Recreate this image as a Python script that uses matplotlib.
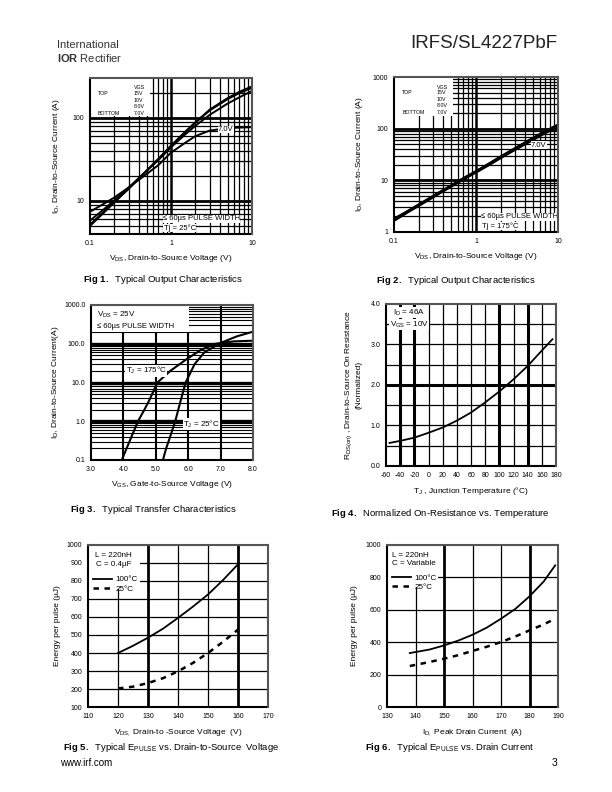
"""
Datasheet page 3 of IRFS/SL4227PbF: six typical characteristic charts.
"""
import matplotlib
matplotlib.use("Agg")
import matplotlib.pyplot as plt
from matplotlib.patches import Rectangle

plt.rcParams["font.family"] = ["Liberation Sans", "DejaVu Sans"]
plt.rcParams["mathtext.fontset"] = "custom"
plt.rcParams["mathtext.rm"] = "Liberation Sans"
plt.rcParams["mathtext.it"] = "Liberation Sans"
plt.rcParams["mathtext.bf"] = "Liberation Sans:bold"
plt.rcParams["mathtext.default"] = "regular"
plt.rcParams["axes.unicode_minus"] = False

W, H = 612, 792

# Fig 1: output characteristics, Tj = 25C
fig1_vds = [0.1, 0.15, 0.2, 0.3, 0.5, 0.7, 1, 1.5, 2, 3, 5, 7, 10]
fig1_15v = [5.0, 7.3, 9.6, 14, 23, 32, 46, 68, 88, 125, 172, 205, 238]
fig1_10v = [5.2, 7.5, 9.8, 14, 23, 32, 46, 67, 87, 122, 167, 198, 228]
fig1_8v = [5.8, 8.0, 10.2, 14.5, 23, 31, 44, 63, 80, 108, 148, 176, 210]
fig1_7v = [7.4, 9.3, 11, 14.5, 21, 27, 38, 50, 60, 70, 75, 76, 77]

# Fig 2: output characteristics, Tj = 175C
fig2_vds = [0.1, 0.15, 0.2, 0.3, 0.5, 0.7, 1, 1.5, 2, 3, 5, 7, 10]
fig2_15v = [1.8, 2.6, 3.4, 5.0, 8.0, 11, 15, 22, 29, 42, 67, 90, 120]
fig2_10v = [1.75, 2.55, 3.35, 4.9, 7.9, 10.8, 14.8, 21.5, 28.5, 41, 65, 87, 116]
fig2_8v = [1.7, 2.5, 3.3, 4.8, 7.8, 10.6, 14.5, 21, 28, 40, 63, 85, 112]
fig2_7v = [1.65, 2.45, 3.2, 4.7, 7.6, 10.4, 14.2, 20.5, 27, 39, 61, 82, 108]

# Fig 3: transfer characteristics
fig3_vgs_175 = [3.95, 4.1, 4.25, 4.45, 4.65, 4.8, 5.05, 5.45, 5.95, 6.4, 6.85, 7.4, 8.0]
fig3_id_175 = [0.1, 0.2, 0.4, 1.0, 2.0, 3.5, 10, 20, 40, 70, 100, 115, 120]
fig3_vgs_25 = [5.22, 5.32, 5.42, 5.6, 5.75, 5.92, 6.2, 6.5, 7.0, 7.5, 8.0]
fig3_id_25 = [0.1, 0.2, 0.35, 1.0, 3.0, 10, 30, 60, 105, 155, 205]

# Fig 4: normalized on-resistance vs temperature
fig4_tj = [-55, -40, -20, 0, 20, 40, 60, 80, 100, 120, 140, 160, 175]
fig4_rds = [0.57, 0.62, 0.70, 0.82, 0.95, 1.12, 1.32, 1.57, 1.84, 2.14, 2.47, 2.85, 3.13]

# Fig 5: energy per pulse vs drain-to-source voltage
fig5_vds = [120, 125, 130, 135, 140, 145, 150, 155, 160]
fig5_100c = [400, 440, 485, 535, 595, 658, 725, 805, 893]
fig5_25c = [203, 213, 233, 260, 298, 345, 400, 462, 530]

# Fig 6: energy per pulse vs peak drain current
fig6_id = [138, 145, 150, 155, 160, 165, 170, 175, 180, 185, 189]
fig6_100c = [333, 355, 380, 410, 446, 490, 545, 605, 683, 775, 874]
fig6_25c = [253, 278, 298, 320, 346, 372, 401, 435, 473, 510, 545]

LOG_MINOR = [2, 3, 4, 5, 6, 7, 8, 9]


def px_axes(fig, left, top, right, bottom):
    """Add an axes given its pixel box on the page."""
    return fig.add_axes([left / W, 1 - bottom / H, (right - left) / W, (bottom - top) / H])


def page_text(fig, x, y, s, **kw):
    """Put text on the page at pixel coordinates."""
    fig.text(x / W, 1 - y / H, s, **kw)


def style_axes(ax):
    ax.tick_params(which="both", length=0, labelsize=5, pad=4)
    for side in ("left", "bottom"):
        ax.spines[side].set_linewidth(1.5)
        ax.spines[side].set_color("black")
    for side in ("top", "right"):
        ax.spines[side].set_linewidth(1.5)
        ax.spines[side].set_color("#555555")
        ax.spines[side].set_zorder(5)


def hlines(ax, values, lw):
    for v in values:
        ax.axhline(v, color="black", lw=lw, zorder=1)


def vlines(ax, values, lw):
    for v in values:
        ax.axvline(v, color="black", lw=lw, zorder=1)


def white_box(ax, x0, y0, w, h):
    ax.add_patch(Rectangle((x0, y0), w, h, transform=ax.transAxes,
                           fc="white", ec="none", zorder=2))


def vgs_legend(ax, rows_y, col_x):
    kw = dict(transform=ax.transAxes, fontsize=3.8, zorder=4, va="center")
    ax.text(col_x, rows_y[0], "VGS", **kw)
    ax.text(0.05, rows_y[1], "TOP", **kw)
    ax.text(col_x, rows_y[1], "15V", **kw)
    ax.text(col_x, rows_y[2], "10V", **kw)
    ax.text(col_x, rows_y[3], "8.0V", **kw)
    ax.text(0.05, rows_y[4], "BOTTOM", **kw)
    ax.text(col_x, rows_y[4], "7.0V", **kw)


fig = plt.figure(figsize=(W / 100, H / 100), dpi=100)

# header
page_text(fig, 57, 45, "International", fontsize=8, color="#333333", va="center")
page_text(fig, 57, 58, r"$\bf{IOR}$ Rectifier", fontsize=8, color="#333333", va="center")
page_text(fig, 557, 44, "IRFS/SL4227PbF", fontsize=13.5, ha="right", va="center", color="#222222")

# ---------------- Fig 1 ----------------
ax1 = px_axes(fig, 90, 78, 252, 234)
ax1.set_xscale("log")
ax1.set_yscale("log")
ax1.set_xlim(0.1, 10)
ax1.set_ylim(4, 300)
vlines(ax1, [m * 0.1 for m in LOG_MINOR] + LOG_MINOR, 0.9)
vlines(ax1, [1], 1.8)
hlines(ax1, [5, 6, 7, 8, 9] + [m * 10 for m in LOG_MINOR] + [200], 0.9)
hlines(ax1, [10, 100], 2.0)
white_box(ax1, 0, 0.755, 0.37, 0.245)
for vals in (fig1_15v, fig1_10v, fig1_8v, fig1_7v):
    ax1.plot(fig1_vds, vals, color="black", lw=1.4, zorder=3)
vgs_legend(ax1, [0.94, 0.9, 0.857, 0.815, 0.772], 0.27)
ax1.text(0.79, 0.67, "7.0V", transform=ax1.transAxes, fontsize=5.5, va="center", zorder=4,
         bbox=dict(fc="white", ec="none", pad=0.3))
ax1.text(0.45, 0.097, u"\u2264 60\u00b5s PULSE WIDTH", transform=ax1.transAxes, fontsize=5.5,
         va="center", zorder=4, bbox=dict(fc="white", ec="none", pad=0.3))
ax1.text(0.455, 0.04, u"Tj = 25\u00b0C", transform=ax1.transAxes, fontsize=5.5,
         va="center", zorder=4, bbox=dict(fc="white", ec="none", pad=0.3))
ax1.set_xticks([0.1, 1, 10], ["0.1", "1", "10"])
ax1.set_yticks([10, 100], ["10", "100"])
ax1.minorticks_off()
style_axes(ax1)
ax1.set_xlabel(r"$V_{DS}$, Drain-to-Source Voltage (V)", fontsize=6, labelpad=5)
ax1.set_ylabel(r"$I_D$, Drain-to-Source Current (A)", fontsize=6, labelpad=8)
page_text(fig, 83, 279, r"$\bf{Fig\ 1.}$  Typical Output Characteristics", fontsize=6.8, va="center")

# ---------------- Fig 2 ----------------
ax2 = px_axes(fig, 394, 77, 558, 232)
ax2.set_xscale("log")
ax2.set_yscale("log")
ax2.set_xlim(0.1, 10)
ax2.set_ylim(1, 1000)
vlines(ax2, [m * 0.1 for m in LOG_MINOR] + LOG_MINOR, 0.9)
vlines(ax2, [1], 1.8)
hlines(ax2, LOG_MINOR + [m * 10 for m in LOG_MINOR] + [m * 100 for m in LOG_MINOR], 0.9)
hlines(ax2, [10, 100], 2.0)
white_box(ax2, 0, 0.746, 0.36, 0.254)
for vals in (fig2_15v, fig2_10v, fig2_8v, fig2_7v):
    ax2.plot(fig2_vds, vals, color="black", lw=1.6, zorder=3)
vgs_legend(ax2, [0.935, 0.903, 0.856, 0.813, 0.774], 0.26)
ax2.text(0.835, 0.56, "7.0V", transform=ax2.transAxes, fontsize=5.5, va="center", zorder=4,
         bbox=dict(fc="white", ec="none", pad=0.3))
ax2.text(0.53, 0.097, u"\u2264 60\u00b5s PULSE WIDTH", transform=ax2.transAxes, fontsize=5.5,
         va="center", zorder=4, bbox=dict(fc="white", ec="none", pad=0.3))
ax2.text(0.535, 0.037, u"Tj = 175\u00b0C", transform=ax2.transAxes, fontsize=5.5,
         va="center", zorder=4, bbox=dict(fc="white", ec="none", pad=0.3))
ax2.set_xticks([0.1, 1, 10], ["0.1", "1", "10"])
ax2.set_yticks([1, 10, 100, 1000], ["1", "10", "100", "1000"])
ax2.minorticks_off()
style_axes(ax2)
ax2.set_xlabel(r"$V_{DS}$, Drain-to-Source Voltage (V)", fontsize=6, labelpad=5)
ax2.set_ylabel(r"$I_D$, Drain-to-Source Current (A)", fontsize=6, labelpad=6)
page_text(fig, 376, 280, r"$\bf{Fig\ 2.}$  Typical Output Characteristics", fontsize=6.8, va="center")

# ---------------- Fig 3 ----------------
ax3 = px_axes(fig, 91, 305, 253, 460)
ax3.set_yscale("log")
ax3.set_xlim(3, 8)
ax3.set_ylim(0.1, 1000)
vlines(ax3, [4, 5, 6, 7], 1.5)
hlines(ax3, [m * 0.1 for m in LOG_MINOR] + LOG_MINOR + [m * 10 for m in LOG_MINOR]
       + [m * 100 for m in LOG_MINOR], 0.8)
hlines(ax3, [1, 10, 100], 2.4)
white_box(ax3, 0, 0.824, 0.607, 0.176)
ax3.plot(fig3_vgs_175, fig3_id_175, color="black", lw=1.5, zorder=3)
ax3.plot(fig3_vgs_25, fig3_id_25, color="black", lw=1.5, zorder=3)
ax3.text(0.035, 0.936, r"$V_{DS}$ = 25V", transform=ax3.transAxes, fontsize=5.8, va="center", zorder=4)
ax3.text(0.035, 0.86, u"\u2264 60\u00b5s PULSE WIDTH", transform=ax3.transAxes, fontsize=5.5,
         va="center", zorder=4)
ax3.text(4.07, 20, u"$T_J$ = 175\u00b0C", fontsize=5.8, va="center", zorder=4,
         bbox=dict(fc="white", ec="none", pad=0.3))
ax3.text(5.85, 0.85, u"$T_J$ = 25\u00b0C", fontsize=5.8, va="center", zorder=4,
         bbox=dict(fc="white", ec="none", pad=0.3))
ax3.set_xticks([3, 4, 5, 6, 7, 8], ["3.0", "4.0", "5.0", "6.0", "7.0", "8.0"])
ax3.set_yticks([0.1, 1, 10, 100, 1000], ["0.1", "1.0", "10.0", "100.0", "1000.0"])
ax3.minorticks_off()
style_axes(ax3)
ax3.set_xlabel(r"$V_{GS}$, Gate-to-Source Voltage (V)", fontsize=6, labelpad=5)
ax3.set_ylabel(r"$I_D$, Drain-to-Source Current(A)", fontsize=6, labelpad=2)
page_text(fig, 70, 510, r"$\bf{Fig\ 3.}$  Typical Transfer Characteristics", fontsize=6.8, va="center")

# ---------------- Fig 4 ----------------
ax4 = px_axes(fig, 386, 304, 556, 466)
ax4.set_xlim(-60, 180)
ax4.set_ylim(0, 4)
vlines(ax4, [-20 + 20 * k for k in range(10)], 0.9)
vlines(ax4, [-40, -20, 100, 140], 2.2)
hlines(ax4, [0.5, 1.0, 1.5, 2.5, 3.0, 3.5], 0.9)
hlines(ax4, [2.0], 2.2)
ax4.plot(fig4_tj, fig4_rds, color="black", lw=1.3, zorder=3)
ax4.text(-50, 3.79, r"$I_D$ = 46A", fontsize=5.8, va="center", zorder=4,
         bbox=dict(fc="white", ec="none", pad=0.2))
ax4.text(-55, 3.49, r"$V_{GS}$ = 10V", fontsize=5.8, va="center", zorder=4,
         bbox=dict(fc="white", ec="none", pad=0.2))
ax4.set_xticks(range(-60, 181, 20))
ax4.set_yticks([0, 1, 2, 3, 4], ["0.0", "1.0", "2.0", "3.0", "4.0"])
style_axes(ax4)
ax4.set_xlabel(u"$T_J$ , Junction Temperature (\u00b0C)", fontsize=6, labelpad=5)
ax4.set_ylabel("$R_{DS(on)}$ , Drain-to-Source On Resistance\n(Normalized)", fontsize=6, labelpad=6)
page_text(fig, 331, 513, r"$\bf{Fig\ 4.}$  Normalized On-Resistance vs. Temperature",
          fontsize=6.8, va="center")

# ---------------- Fig 5 ----------------
ax5 = px_axes(fig, 88, 545, 268, 707)
ax5.set_xlim(110, 170)
ax5.set_ylim(100, 1000)
vlines(ax5, [120, 140, 150], 0.9)
vlines(ax5, [130, 160], 2.0)
hlines(ax5, range(200, 1000, 100), 0.9)
white_box(ax5, 0, 0.73, 0.29, 0.27)
ax5.plot(fig5_vds, fig5_100c, color="black", lw=1.3, zorder=3, label=u"100\u00b0C")
ax5.plot(fig5_vds, fig5_25c, color="black", lw=1.8, ls=(0, (2.2, 2.2)), zorder=3, label=u"25\u00b0C")
ax5.text(112.2, 941, "L = 220nH", fontsize=5.8, va="center", zorder=4)
ax5.text(112.5, 893, u"C = 0.4\u00b5F", fontsize=5.8, va="center", zorder=4)
ax5.legend(loc="upper left", bbox_to_anchor=(0.0, 0.84), frameon=False, fontsize=5.8,
           handlelength=2.4, handletextpad=0.4, borderaxespad=0.2, labelspacing=0.2)
ax5.set_xticks(range(110, 171, 10))
ax5.set_yticks(range(100, 1001, 100))
style_axes(ax5)
ax5.set_xlabel(r"$V_{DS,}$ Drain-to -Source Voltage  (V)", fontsize=6, labelpad=5)
ax5.set_ylabel(u"Energy per pulse (\u00b5J)", fontsize=6, labelpad=4)
page_text(fig, 63, 747, r"$\bf{Fig\ 5.}$  Typical E$_{PULSE}$ vs. Drain-to-Source  Voltage",
          fontsize=6.8, va="center")
page_text(fig, 60, 763, "www.irf.com", fontsize=7, va="center")

# ---------------- Fig 6 ----------------
ax6 = px_axes(fig, 387, 545, 558, 707)
ax6.set_xlim(130, 190)
ax6.set_ylim(0, 1000)
vlines(ax6, [140, 160, 170], 0.9)
vlines(ax6, [150, 180], 2.0)
hlines(ax6, [200, 400, 600, 800], 0.9)
white_box(ax6, 0, 0.74, 0.3, 0.26)
ax6.plot(fig6_id, fig6_100c, color="black", lw=1.3, zorder=3, label=u"100\u00b0C")
ax6.plot(fig6_id, fig6_25c, color="black", lw=1.8, ls=(0, (2.2, 2.2)), zorder=3, label=u"25\u00b0C")
ax6.text(131.7, 934, "L = 220nH", fontsize=5.8, va="center", zorder=4)
ax6.text(131.7, 883, "C = Variable", fontsize=5.8, va="center", zorder=4)
ax6.legend(loc="upper left", bbox_to_anchor=(0.0, 0.85), frameon=False, fontsize=5.8,
           handlelength=2.4, handletextpad=0.4, borderaxespad=0.2, labelspacing=0.2)
ax6.set_xticks(range(130, 191, 10))
ax6.set_yticks(range(0, 1001, 200))
style_axes(ax6)
ax6.set_xlabel(r"$I_{D,}$ Peak Drain Current  (A)", fontsize=6, labelpad=5)
ax6.set_ylabel(u"Energy per pulse (\u00b5J)", fontsize=6, labelpad=6)
page_text(fig, 365, 747, r"$\bf{Fig\ 6.}$  Typical E$_{PULSE}$ vs. Drain Current",
          fontsize=6.8, va="center")
page_text(fig, 557, 763, "3", fontsize=7.5, ha="right", va="center")

fig.savefig("out.png", dpi=100)
